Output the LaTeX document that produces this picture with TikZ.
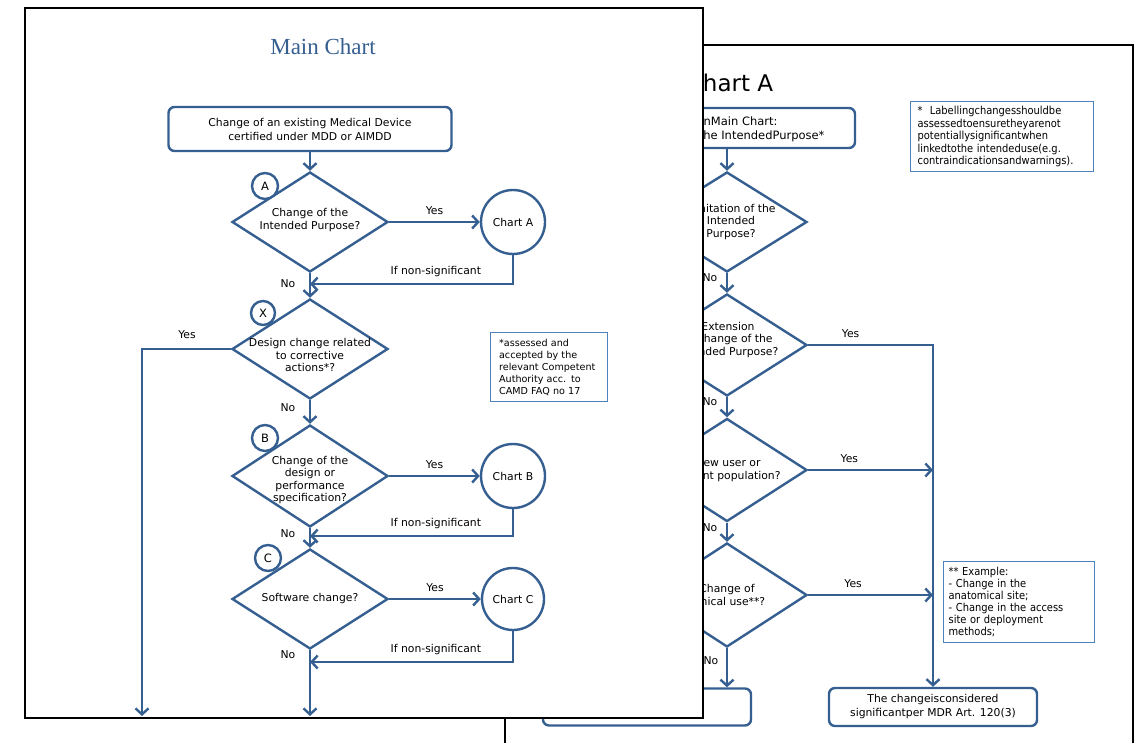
\documentclass[tikz,border=0pt]{standalone}
\usepackage{fontspec}
\setmainfont{DejaVu Sans}
\newfontfamily\headfont{Liberation Serif}
\newfontfamily\narrowfont{DejaVu Sans Condensed}
\usetikzlibrary{shapes.geometric,arrows.meta}
\definecolor{flowblue}{RGB}{54,95,145}
\definecolor{noteblue}{RGB}{79,129,189}
\tikzset{
  page/.style={draw=black, line width=2.2pt},
  flow/.style={draw=flowblue, line width=2.4pt},
  flowarrow/.style={flow, -{Straight Barb[length=6pt,width=13pt]}},
  startbox/.style={flow, rounded corners=6pt, minimum width=283pt, minimum height=44pt, align=center, font=\fontsize{10.8}{14}\selectfont},
  endbox/.style={flow, rounded corners=6pt, minimum width=208pt, minimum height=38pt, align=center, font=\fontsize{10.8}{14}\selectfont},
  decision/.style={flow, diamond, minimum width=156pt, minimum height=100pt, inner sep=0pt},
  chartref/.style={flow, circle, minimum size=64pt, inner sep=0pt, font=\fontsize{10.8}{12}\selectfont},
  tag/.style={flow, circle, fill=white, minimum size=26pt, inner sep=0pt, font=\fontsize{11.5}{12}\selectfont},
  qtext/.style={align=center, font=\fontsize{10.8}{12.5}\selectfont},
  lbl/.style={font=\fontsize{10.8}{12}\selectfont},
  notebox/.style={draw=noteblue, line width=1.2pt, anchor=north west, align=left, inner ysep=0pt}
}
\begin{document}
\begin{tikzpicture}[x=1pt,y=-1pt]
\useasboundingbox (0,0) rectangle (1135,743);
% page behind: Chart A
\draw[page, line width=1.8pt] (505,760) -- (505,45) -- (1133,45) -- (1133,760);
\node[font=\fontsize{23}{26}\selectfont] (titleA) at (730,83) {Chart A};
\node[flow, rounded corners=6pt, minimum width=256pt, minimum height=40pt] (fromA) at (727,128) {};
\node[lbl, anchor=east, align=right, font=\fontsize{11.5}{14}\selectfont] (fromAtxt) at (828,129) {Question A inMain Chart:\hspace*{47pt}\\Change of the IntendedPurpose*};
\node[decision, minimum width=160pt] (qLim) at (727,222) {};
\node[qtext] at (731,222) {Limitation of the\\Intended\\Purpose?};
\node[decision, minimum width=160pt, minimum height=102pt] (qExt) at (727,345) {};
\node[qtext] at (728,340) {Extension\\or change of the\\Intended Purpose?};
\node[decision, minimum width=160pt, minimum height=103pt] (qUser) at (727,470) {};
\node[qtext] at (728,470) {New user or\\patient population?};
\node[decision, minimum width=160pt, minimum height=104pt] (qUse) at (727,595) {};
\node[qtext] at (727,595) {Change of\\clinical use**?};
\node[endbox, minimum height=37pt] (nextQ) at (647,707) {Return to Main Chart\\Question X};
\node[endbox] (signif) at (933,707) {The changeisconsidered\\significantper MDR Art. 120(3)};
\node[notebox, font=\narrowfont\fontsize{11}{12.5}\selectfont, text width=169pt, inner xsep=7pt, minimum height=70pt] (noteLab) at (910,101) {* \ Labellingchangesshouldbe\\assessedtoensuretheyarenot\\potentiallysignificantwhen\\linkedtothe intendeduse(e.g.\\contraindicationsandwarnings).};
\node[notebox, font=\narrowfont\fontsize{11}{12}\selectfont, text width=141pt, inner xsep=5pt, minimum height=81pt] (noteEx) at (943,561) {** Example:\\- Change in the\\anatomical site;\\- Change in the access\\site or deployment\\methods;};
\draw[flowarrow] (fromA) -- (qLim);
\draw[flowarrow] (qLim) -- (qExt);
\draw[flowarrow] (qExt) -- (qUser);
\draw[flowarrow] (qUser) -- (qUse);
\draw[flowarrow] (qUse.south) -- (qUse.south |- nextQ.north);
\draw[flowarrow] (qExt.east) -| (signif.north) node[lbl, pos=0.17, above=3pt] {Yes};
\draw[flowarrow] (qUser.east) -- (qUser.east -| signif.north) node[lbl, pos=0.33, above=3pt] {Yes};
\draw[flowarrow] (qUse.east) -- (qUse.east -| signif.north) node[lbl, pos=0.36, above=3pt] {Yes};
\node[lbl] at (710,278) {No};
\node[lbl] at (710,402) {No};
\node[lbl] at (710,528) {No};
\node[lbl] at (711,661) {No};
% page in front: Main Chart
\draw[page, fill=white] (25,8) rectangle (703,718);
\node[font=\headfont\fontsize{23}{26}\selectfont, text=flowblue] (title) at (323,47) {Main Chart};
\node[startbox] (start) at (310,129) {Change of an existing Medical Device\\certified under MDD or AIMDD};
\node[decision] (qA) at (310,222) {};
\node[qtext] at (310,220) {Change of the\\Intended Purpose?};
\node[tag] (tagA) at (265,186) {A};
\node[chartref] (chA) at (513,222) {Chart A};
\node[decision] (qX) at (310,349) {};
\node[qtext] at (310,355) {Design change related\\to corrective\\actions*?};
\node[tag, minimum size=24pt] (tagX) at (263,313) {X};
\node[decision, minimum height=102pt] (qB) at (310,476) {};
\node[qtext] at (310,480) {Change of the\\design or\\performance\\specification?};
\node[tag] (tagB) at (265,438) {B};
\node[chartref] (chB) at (513,476) {Chart B};
\node[decision] (qC) at (310,599) {};
\node[qtext] at (310,599) {Software change?};
\node[tag] (tagC) at (268,558) {C};
\node[chartref, minimum size=62pt] (chC) at (513,599) {Chart C};
\node[notebox, font=\fontsize{9.6}{12}\selectfont, text width=100pt, inner xsep=8.5pt, minimum height=69pt] (noteX) at (490,332) {*assessed and\\accepted by the\\relevant Competent\\Authority acc. to\\CAMD FAQ no 17};
\coordinate (retA) at (310,284);
\coordinate (retB) at (310,536);
\coordinate (retC) at (310,662);
\coordinate (endC) at (310,716);
\coordinate (endX) at (142,716);
\draw[flowarrow] (start) -- (qA);
\draw[flowarrow] (qA) -- (chA) node[lbl, midway, above=3pt] {Yes};
\draw[flowarrow] (chA) |- (retA) node[lbl, pos=0.69, above=3pt] {If non-significant};
\draw[flowarrow] (qA) -- (qX);
\draw[flowarrow] (qX.west) -| (endX);
\draw[flowarrow] (qX) -- (qB);
\draw[flowarrow] (qB) -- (chB) node[lbl, midway, above=3pt] {Yes};
\draw[flowarrow] (chB) |- (retB) node[lbl, pos=0.69, above=3pt] {If non-significant};
\draw[flowarrow] (qB) -- (qC);
\draw[flowarrow] (qC) -- (chC) node[lbl, midway, above=3pt] {Yes};
\draw[flowarrow] (chC) |- (retC) node[lbl, pos=0.69, above=3pt] {If non-significant};
\draw[flowarrow] (qC) -- (endC);
\node[lbl] at (187,335) {Yes};
\node[lbl] at (288,284) {No};
\node[lbl] at (288,408) {No};
\node[lbl] at (288,534) {No};
\node[lbl] at (288,655) {No};
\end{tikzpicture}
\end{document}
